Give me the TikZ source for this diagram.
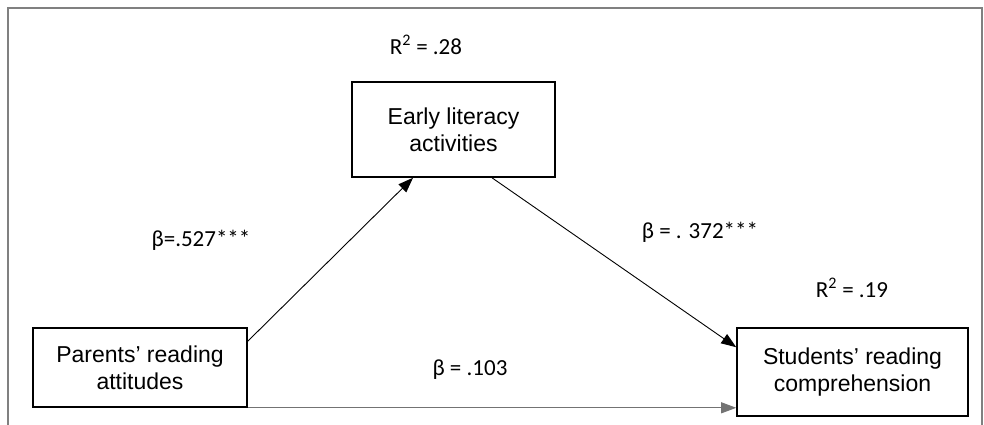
\documentclass[tikz,border=0pt]{standalone}
\usepackage{fontspec}
\setmainfont{Liberation Sans}
\newfontfamily\coeffont{Carlito}
\usetikzlibrary{arrows.meta}

\tikzset{
	varbox/.style={draw, line width=1.6pt, align=center, inner sep=0pt,
		font=\fontsize{23}{27}\selectfont},
	coef/.style={font=\coeffont\fontsize{23}{27}\selectfont, inner sep=0pt},
	link/.style={line width=0.9pt, -{Triangle[length=15pt,width=11pt]}}
}

\begin{document}
\begin{tikzpicture}[x=1pt,y=-1pt]

	\useasboundingbox (0,0) rectangle (984,425);
	
	% frame round the figure (open at the bottom)
	\draw[line width=1.2pt, gray] (8,425) -- (8,8) -- (982,8) -- (982,425);
	
	% the three variables
	\node[varbox, minimum width=203pt, minimum height=95pt] (early) at (453.5,129.5) {Early literacy\\activities};
	\node[varbox, minimum width=214pt, minimum height=79pt] (parents) at (140,367.5) {Parents' reading\\attitudes};
	\node[varbox, minimum width=231pt, minimum height=88pt] (students) at (852.5,372) {Students' reading\\comprehension};
	
	% paths
	\draw[link] ([yshift=-14pt]parents.north east) -- ([xshift=-40.5pt]early.south);
	\draw[link] ([xshift=38.5pt]early.south) -- ([yshift=-20pt]students.north west);
	\draw[link, draw=black!55] (parents.south east) -- (parents.south east -| students.west);
	
	% coefficients
	\node[coef] (r1) at (426,45) {R\textsuperscript{2} = .28};
	\node[coef] (r2) at (852,288) {R\textsuperscript{2} = .19};
	\node[coef] (b1) at (201,240) {β=.527***};
	\node[coef] (b2) at (700,232) {β = . 372***};
	\node[coef] (b3) at (470,370) {β = .103};

\end{tikzpicture}
\end{document}
